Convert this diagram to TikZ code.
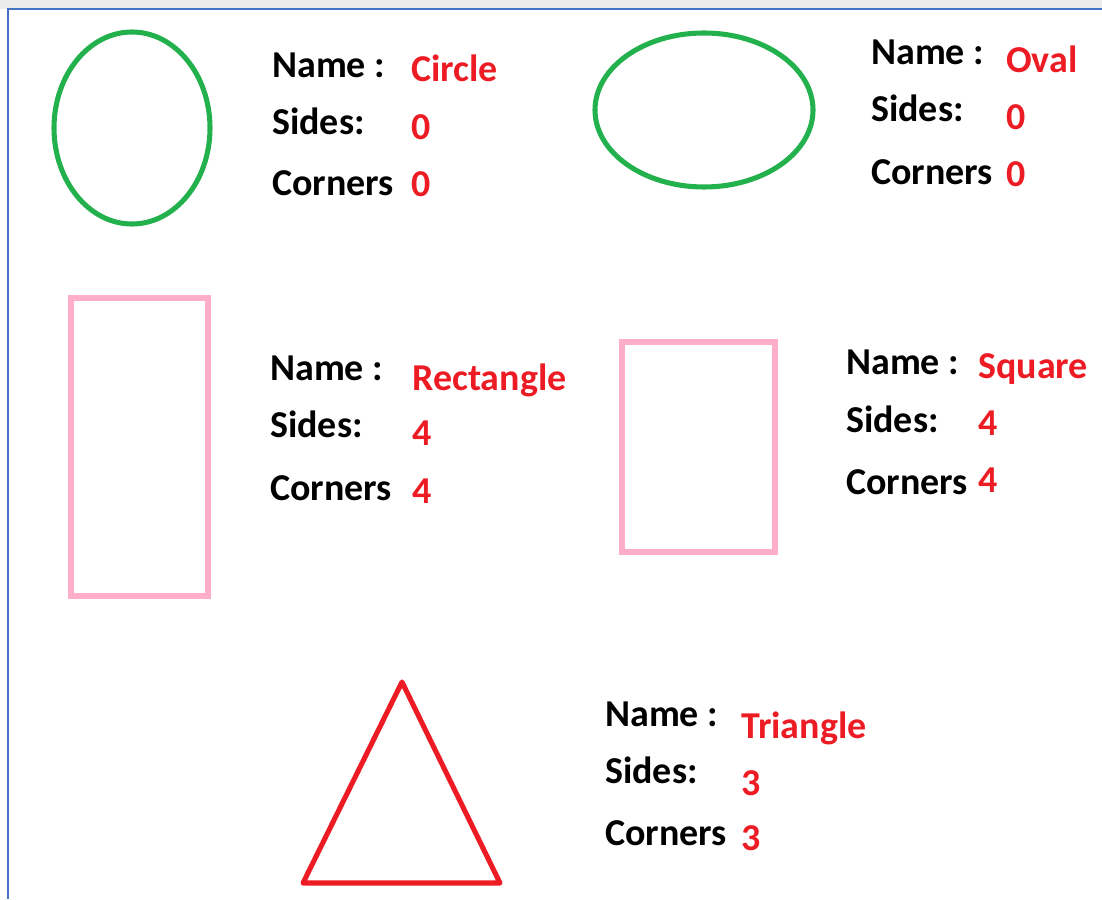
\documentclass[tikz,border=0pt]{standalone}
\usepackage{fontspec}
\setmainfont{Carlito}
\definecolor{shapegreen}{RGB}{34,177,76}
\definecolor{shapepink}{RGB}{255,174,201}
\definecolor{shapered}{RGB}{237,28,36}
\definecolor{frameblue}{RGB}{68,114,196}
\begin{document}
\begin{tikzpicture}[x=0.025cm,y=-0.025cm,
    key/.style={anchor=base west,inner sep=0pt,font=\fontsize{27}{32}\selectfont\bfseries,text=black},
    val/.style={anchor=base west,inner sep=0pt,font=\fontsize{27}{32}\selectfont\bfseries,text=shapered},
    outline/.style={line width=3.6pt}]
    \useasboundingbox (0,0) rectangle (1102,899);
    % Fundo e moldura
    \fill[gray!15] (0,0) rectangle (1102,9);
    \draw[frameblue,line width=1.2pt] (8,899) -- (8,9) -- (1102,9);
    % Circulo
    \draw[outline,shapegreen] (132,128) ellipse [x radius=78,y radius=96];
    \node[key] (circname) at (272,78) {Name :};
    \node[val] (circnameval) at (411,82) {Circle};
    \node[key] (circsides) at (272,135) {Sides:};
    \node[val] (circsidesval) at (411,140) {0};
    \node[key] (circcorners) at (272,196) {Corners};
    \node[val] (circcornersval) at (411,197) {0};
    % Oval
    \draw[outline,shapegreen] (704,110) ellipse [x radius=109,y radius=77];
    \node[key] (ovalname) at (871,65) {Name :};
    \node[val] (ovalnameval) at (1006,73) {Oval};
    \node[key] (ovalsides) at (871,122) {Sides:};
    \node[val] (ovalsidesval) at (1006,130) {0};
    \node[key] (ovalcorners) at (871,185) {Corners};
    \node[val] (ovalcornersval) at (1006,187) {0};
    % Retangulo
    \draw[outline,shapepink] (71,298) rectangle (208,596);
    \node[key] (rectname) at (270,380) {Name :};
    \node[val] (rectnameval) at (412,390) {Rectangle};
    \node[key] (rectsides) at (270,437) {Sides:};
    \node[val] (rectsidesval) at (412,445) {4};
    \node[key] (rectcorners) at (270,500) {Corners};
    \node[val] (rectcornersval) at (412,503) {4};
    % Quadrado
    \draw[outline,shapepink] (622,342) rectangle (775,552);
    \node[key] (sqname) at (846,374) {Name :};
    \node[val] (sqnameval) at (978,378) {Square};
    \node[key] (sqsides) at (846,432) {Sides:};
    \node[val] (sqsidesval) at (978,435) {4};
    \node[key] (sqcorners) at (846,494) {Corners};
    \node[val] (sqcornersval) at (978,492) {4};
    % Triangulo
    \draw[outline,shapered,line join=round] (402,682) -- (500,883) -- (303,883) -- cycle;
    \node[key] (triname) at (605,726) {Name :};
    \node[val] (trinameval) at (741,738) {Triangle};
    \node[key] (trisides) at (605,783) {Sides:};
    \node[val] (trisidesval) at (741,795) {3};
    \node[key] (tricorners) at (605,845) {Corners};
    \node[val] (tricornersval) at (741,850) {3};
\end{tikzpicture}
\end{document}
